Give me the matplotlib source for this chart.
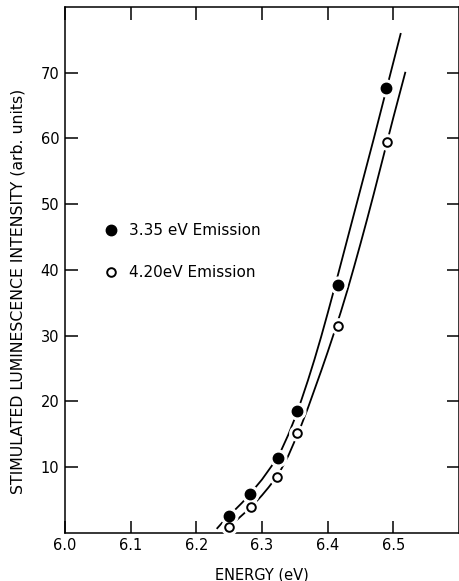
import matplotlib
matplotlib.use("Agg")
import matplotlib.pyplot as plt
from matplotlib.lines import Line2D

# measured points
e_335 = [6.25, 6.282, 6.324, 6.354, 6.415, 6.489]
i_335 = [2.6, 5.9, 11.4, 18.5, 37.7, 67.7]
e_420 = [6.25, 6.283, 6.323, 6.354, 6.415, 6.49]
i_420 = [0.9, 3.9, 8.5, 15.2, 31.4, 59.4]

# hand-drawn fit curves
curve_e_335 = [6.232, 6.24, 6.25, 6.26, 6.27, 6.28, 6.29, 6.30, 6.31, 6.32, 6.33,
               6.34, 6.35, 6.36, 6.37, 6.38, 6.39, 6.40, 6.41, 6.42, 6.43, 6.44,
               6.45, 6.46, 6.47, 6.48, 6.49, 6.50, 6.511]
curve_i_335 = [0.7, 1.6, 2.6, 3.6, 4.6, 5.7, 6.9, 8.1, 9.5, 10.9, 12.7,
               14.9, 17.4, 20.2, 23.2, 26.4, 29.8, 33.4, 37.1, 40.9, 44.7, 48.5,
               52.3, 56.1, 59.9, 63.8, 67.7, 71.6, 75.9]
curve_e_420 = [6.243, 6.25, 6.26, 6.27, 6.28, 6.29, 6.30, 6.31, 6.32, 6.33, 6.34,
               6.35, 6.36, 6.37, 6.38, 6.39, 6.40, 6.41, 6.42, 6.43, 6.44, 6.45,
               6.46, 6.47, 6.48, 6.49, 6.50, 6.518]
curve_i_420 = [0.3, 0.9, 1.8, 2.7, 3.6, 4.6, 5.7, 6.9, 8.2, 9.8, 11.7,
               14.0, 16.4, 19.0, 21.8, 24.6, 27.5, 30.5, 33.6, 36.9, 40.4, 44.0,
               47.7, 51.5, 55.4, 59.3, 63.2, 70.0]

xticks = [6.0, 6.1, 6.2, 6.3, 6.4, 6.5]
yticks = [10, 20, 30, 40, 50, 60, 70]
labels = ["3.35 eV Emission", "4.20eV Emission"]

plt.rcParams["font.family"] = "DejaVu Sans"

fig = plt.figure(figsize=(4.6, 5.81), dpi=100)
ax = fig.add_axes([0.141, 0.083, 0.857, 0.905])

ax.plot(curve_e_335, curve_i_335, color="black", lw=1.3, zorder=2)
ax.plot(curve_e_420, curve_i_420, color="black", lw=1.3, zorder=2)

# white halos leave small gaps in the curves around each point
ax.plot(e_335, i_335, "o", ms=12, color="white", zorder=3)
ax.plot(e_420, i_420, "o", ms=11, color="white", zorder=3)
ax.plot(e_335, i_335, "o", ms=7.5, color="black", zorder=4)
ax.plot(e_420, i_420, "o", ms=6.2, mfc="white", mec="black", mew=1.4, zorder=4)

ax.set_xlim(6.0, 6.6)
ax.set_ylim(0, 80)
ax.set_xticks(xticks)
ax.set_xticklabels(["6.0", "6.1", "6.2", "6.3", "6.4", "6.5"])
ax.set_yticks(yticks)
ax.tick_params(axis="both", direction="in", length=9, width=1.1,
               labelsize=10.5, top=True, right=True, pad=4)
for s in ax.spines.values():
    s.set_linewidth(1.1)

ax.set_xlabel("ENERGY (eV)", fontsize=10.5, labelpad=10)
ax.set_ylabel("STIMULATED LUMINESCENCE INTENSITY (arb. units)", fontsize=11.3)
ax.yaxis.set_label_coords(-0.1, 0.46)

handles = [
    Line2D([], [], ls="none", marker="o", ms=7.5, color="black"),
    Line2D([], [], ls="none", marker="o", ms=6.2, mfc="white", mec="black", mew=1.4),
]
ax.legend(handles, labels, loc="upper left", bbox_to_anchor=(0.085, 0.6),
          frameon=False, fontsize=11, handlelength=0.8, handletextpad=0.8,
          labelspacing=1.75, borderaxespad=0)

fig.savefig("out.png", dpi=100)
